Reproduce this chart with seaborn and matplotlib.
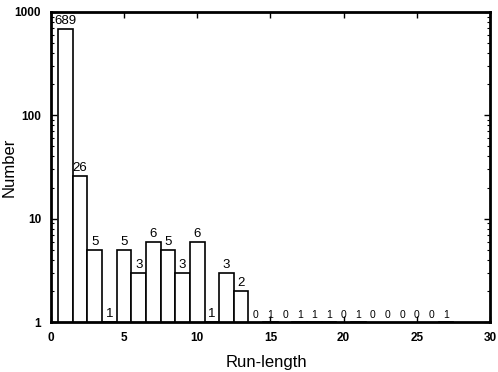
import numpy as np
import pandas as pd
import matplotlib
matplotlib.use("Agg")
import matplotlib.pyplot as plt
import seaborn as sns

# run-length histogram (counts)
run_length = list(range(1, 28))
counts = [689, 26, 5, 1, 5, 3, 6, 5, 3, 6, 1, 3, 2,
          0, 1, 0, 1, 1, 1, 0, 1, 0, 0, 0, 0, 0, 1]

df = pd.DataFrame({"run_length": run_length, "count": counts})

sns.set_style("ticks", {"text.color": "black", "axes.labelcolor": "black",
                        "xtick.color": "black", "ytick.color": "black"})
plt.rcParams["font.family"] = ["Liberation Sans", "DejaVu Sans"]

fig = plt.figure(figsize=(4.98, 3.72), dpi=100)
ax = fig.add_axes([0.102, 0.134, 0.882, 0.834])

# bars only where there is something above the log floor
bars = df[df["count"] > 0]
sns.barplot(data=bars, x="run_length", y="count", native_scale=True,
            width=1.0, color="white", edgecolor="black", linewidth=1.2,
            saturation=1, ax=ax)

ax.set_yscale("log")
ax.set_ylim(1, 1000)
ax.set_xlim(0, 30)
ax.set_xticks([0, 5, 10, 15, 20, 25, 30])
ax.set_yticks([1, 10, 100, 1000])
ax.set_yticklabels(["1", "10", "100", "1000"])
for lab in ax.get_xticklabels() + ax.get_yticklabels():
    lab.set_fontweight("bold")

# count labels on top of each bar
for x, v in zip(run_length, counts):
    small = x >= 14
    ax.text(x, max(v, 1) * 1.04, str(v), ha="center", va="bottom",
            fontsize=7.5 if small else 9.5, color="black")

ax.set_xlabel("Run-length", fontsize=12, color="black")
ax.set_ylabel("Number", fontsize=12, color="black")
ax.xaxis.set_label_coords(0.49, -0.105)
ax.yaxis.set_label_coords(-0.078, 0.5)

for s in ax.spines.values():
    s.set_linewidth(2.0)
    s.set_color("black")
ax.tick_params(axis="both", which="major", direction="in", length=4, width=1,
               top=True, right=True, labelsize=8.5, colors="black")
ax.tick_params(axis="y", which="major", pad=7)
ax.tick_params(axis="x", which="major", pad=7)
ax.tick_params(axis="both", which="minor", direction="in", length=2, width=0.8,
               left=True, right=True, colors="black")

fig.savefig("out.png", dpi=100)
